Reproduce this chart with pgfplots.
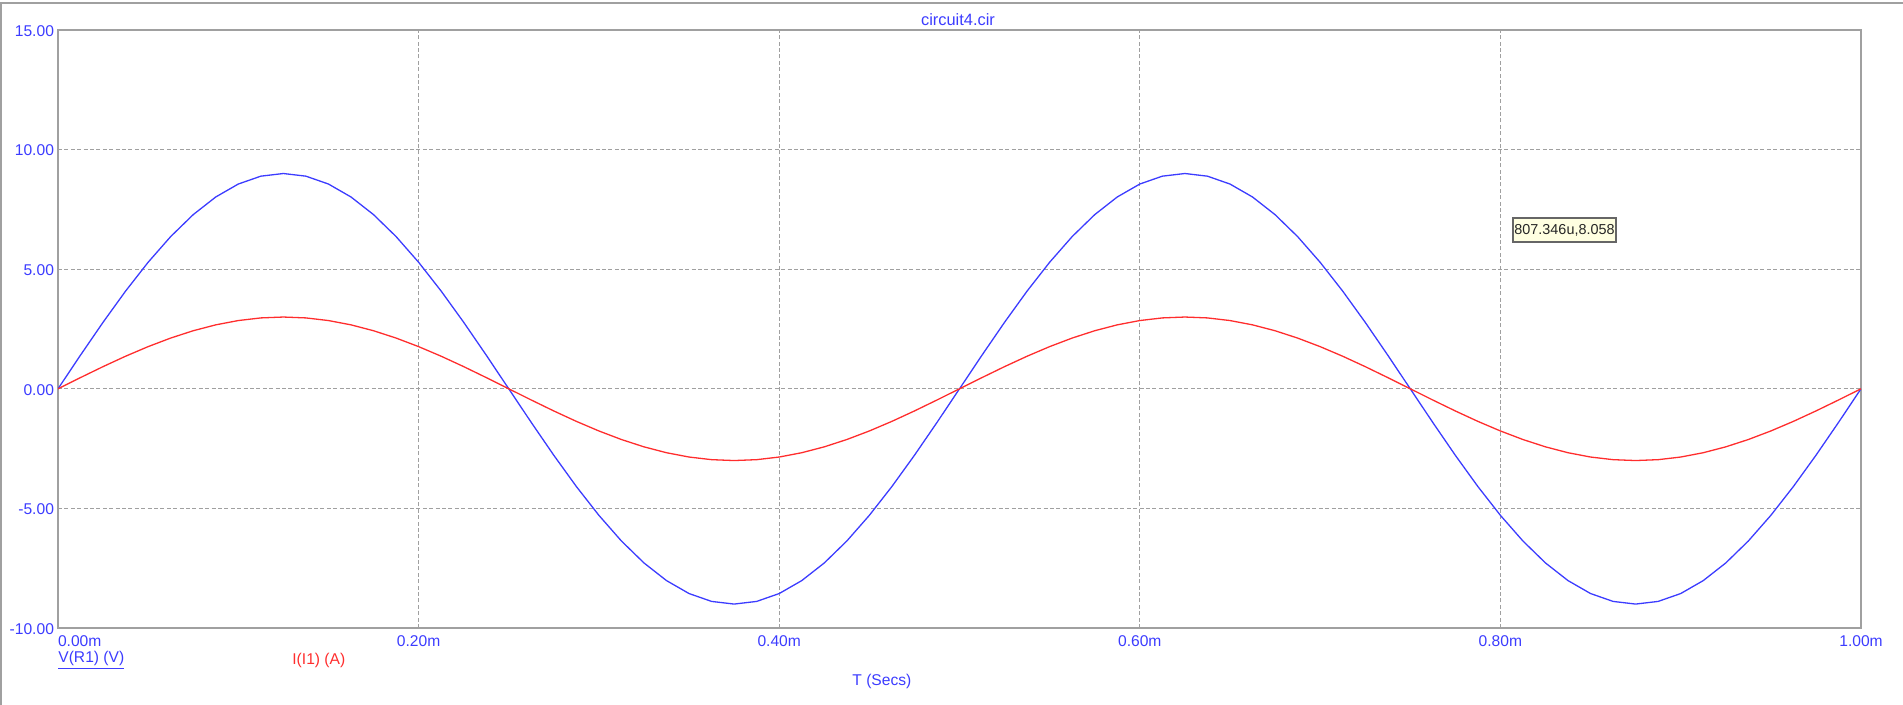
\documentclass[border=0pt]{standalone}
\usepackage{pgfplots}
\pgfplotsset{compat=1.18}
\usepackage{pgfplotstable}
\usepackage{fontspec}
\setmainfont{Liberation Sans}
\definecolor{mcblue}{RGB}{60,60,255}
\definecolor{mcred}{RGB}{255,45,45}
\definecolor{mcgray}{RGB}{160,160,160}
\definecolor{tipfill}{RGB}{255,255,225}
\pgfplotstableread{
x v i
0 0 0
0.0125 1.408 0.469
0.025 2.781 0.927
0.0375 4.086 1.362
0.05 5.290 1.763
0.0625 6.364 2.121
0.075 7.281 2.427
0.0875 8.019 2.673
0.1 8.560 2.853
0.1125 8.889 2.963
0.125 9.000 3.000
0.1375 8.889 2.963
0.15 8.560 2.853
0.1625 8.019 2.673
0.175 7.281 2.427
0.1875 6.364 2.121
0.2 5.290 1.763
0.2125 4.086 1.362
0.225 2.781 0.927
0.2375 1.408 0.469
0.25 0 0
0.2625 -1.408 -0.469
0.275 -2.781 -0.927
0.2875 -4.086 -1.362
0.3 -5.290 -1.763
0.3125 -6.364 -2.121
0.325 -7.281 -2.427
0.3375 -8.019 -2.673
0.35 -8.560 -2.853
0.3625 -8.889 -2.963
0.375 -9.000 -3.000
0.3875 -8.889 -2.963
0.4 -8.560 -2.853
0.4125 -8.019 -2.673
0.425 -7.281 -2.427
0.4375 -6.364 -2.121
0.45 -5.290 -1.763
0.4625 -4.086 -1.362
0.475 -2.781 -0.927
0.4875 -1.408 -0.469
0.5 0 0
0.5125 1.408 0.469
0.525 2.781 0.927
0.5375 4.086 1.362
0.55 5.290 1.763
0.5625 6.364 2.121
0.575 7.281 2.427
0.5875 8.019 2.673
0.6 8.560 2.853
0.6125 8.889 2.963
0.625 9.000 3.000
0.6375 8.889 2.963
0.65 8.560 2.853
0.6625 8.019 2.673
0.675 7.281 2.427
0.6875 6.364 2.121
0.7 5.290 1.763
0.7125 4.086 1.362
0.725 2.781 0.927
0.7375 1.408 0.469
0.75 0 0
0.7625 -1.408 -0.469
0.775 -2.781 -0.927
0.7875 -4.086 -1.362
0.8 -5.290 -1.763
0.8125 -6.364 -2.121
0.825 -7.281 -2.427
0.8375 -8.019 -2.673
0.85 -8.560 -2.853
0.8625 -8.889 -2.963
0.875 -9.000 -3.000
0.8875 -8.889 -2.963
0.9 -8.560 -2.853
0.9125 -8.019 -2.673
0.925 -7.281 -2.427
0.9375 -6.364 -2.121
0.95 -5.290 -1.763
0.9625 -4.086 -1.362
0.975 -2.781 -0.927
0.9875 -1.408 -0.469
1 0 0
}\wave
\begin{document}
\begin{tikzpicture}
\path[use as bounding box] (0,0) rectangle (951.5pt,352.5pt);
\draw[mcgray, line width=1pt] (0,351pt) -- (951.5pt,351pt);
\draw[mcgray, line width=1pt] (0.5pt,0) -- (0.5pt,351pt);
\begin{axis}[
  scale only axis,
  width=901.5pt, height=299pt,
  anchor=south west, at={(29pt,38.5pt)},
  xmin=0, xmax=1, ymin=-10, ymax=15,
  xtick={0,0.2,0.4,0.6,0.8,1},
  xticklabels={\makebox[0pt][l]{0.00m},0.20m,0.40m,0.60m,0.80m,1.00m},
  ytick={-10,-5,0,5,10,15},
  yticklabels={-10.00,-5.00,0.00,5.00,10.00,15.00},
  tick style={draw=none},
  axis line style={mcgray, line width=1pt},
  grid=major,
  major grid style={mcgray, line width=0.5pt, dash pattern=on 2pt off 1.2pt},
  tick label style={font=\fontsize{7.8pt}{9pt}\selectfont, text=mcblue},
  xticklabel style={yshift=-0.5pt},
  yticklabel style={xshift=1.5pt, yshift=-0.5pt},
  clip=true,
]
\addplot[mcblue, line width=0.65pt] table[x=x, y=v] {\wave};
\addplot[mcred, line width=0.65pt] table[x=x, y=i] {\wave};
\end{axis}
\node[text=mcblue, font=\fontsize{8.2pt}{9pt}\selectfont] at (479pt,342.5pt) {circuit4.cir};
\node[anchor=west, inner sep=0pt, text=mcblue, font=\fontsize{7.8pt}{9pt}\selectfont] at (29pt,22.5pt) {\underline{V(R1) (V)}};
\node[anchor=west, inner sep=0pt, text=mcred, font=\fontsize{7.8pt}{9pt}\selectfont] at (146pt,22.5pt) {I(I1) (A)};
\node[anchor=west, inner sep=0pt, text=mcblue, font=\fontsize{7.8pt}{9pt}\selectfont] at (426pt,12pt) {T (Secs)};
\node[draw=black!60, fill=tipfill, line width=0.6pt, minimum width=51.5pt, minimum height=12pt, inner sep=0pt, text=black!85, font=\fontsize{7.2pt}{8pt}\selectfont] at (782.25pt,237.5pt) {807.346u,8.058};
\end{tikzpicture}
\end{document}
